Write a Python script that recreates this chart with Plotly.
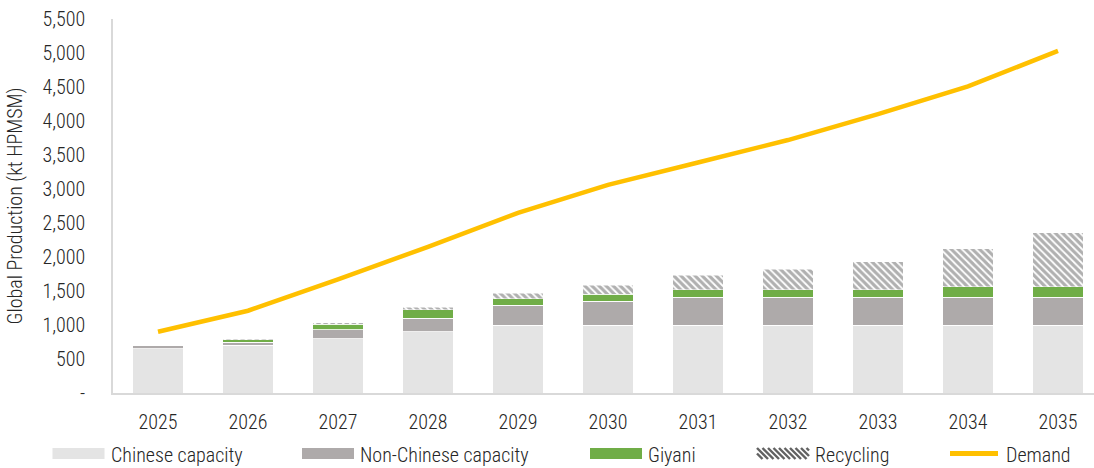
import plotly.graph_objects as go

# Global HPMSM supply build-up versus demand, 2025-2035 (kt HPMSM)
years = ["2025", "2026", "2027", "2028", "2029", "2030", "2031", "2032", "2033", "2034", "2035"]
chinese_capacity = [650, 700, 800, 900, 1000, 1000, 1000, 1000, 1000, 1000, 1000]
non_chinese_capacity = [50, 50, 130, 200, 290, 350, 410, 410, 410, 410, 410]
giyani = [0, 30, 80, 125, 95, 105, 110, 110, 110, 150, 150]
recycling = [0, 15, 25, 35, 85, 130, 215, 300, 410, 565, 800]
demand = [900, 1210, 1670, 2150, 2650, 3060, 3390, 3720, 4100, 4510, 5030]

y_ticks = [0, 500, 1000, 1500, 2000, 2500, 3000, 3500, 4000, 4500, 5000, 5500]
y_tick_text = ["-"] + [f"{v:,}" for v in y_ticks[1:]]

FONT = "Liberation Sans Narrow, Arial Narrow, Roboto Condensed, DejaVu Sans Condensed, sans-serif"
WEIGHT = 300
TEXT_COLOR = "#262626"
C_CHINESE = "#e4e4e4"
C_NONCHINESE = "#aeaaaa"
C_GIYANI = "#70ad47"
C_STRIPE = "#626262"
C_DEMAND = "#ffc000"

W, H = 1094, 468
M_L, M_R, M_T, M_B = 113, 0, 19, 75
PLOT_W = W - M_L - M_R
PLOT_H = H - M_T - M_B

fig = go.Figure()

bar_line = dict(color="white", width=0.8)
fig.add_trace(go.Bar(x=years, y=chinese_capacity, name="Chinese capacity",
                     marker=dict(color=C_CHINESE, line=bar_line)))
fig.add_trace(go.Bar(x=years, y=non_chinese_capacity, name="Non-Chinese capacity",
                     marker=dict(color=C_NONCHINESE, line=bar_line)))
fig.add_trace(go.Bar(x=years, y=giyani, name="Giyani",
                     marker=dict(color=C_GIYANI, line=bar_line)))
fig.add_trace(go.Bar(x=years, y=recycling, name="Recycling",
                     marker=dict(color="white", line=dict(color="white", width=0.5),
                                 pattern=dict(shape="\\", fgcolor=C_STRIPE, bgcolor="white",
                                              size=5, solidity=0.65))))
fig.add_trace(go.Scatter(x=years, y=demand, name="Demand", mode="lines",
                         line=dict(color=C_DEMAND, width=4.5)))


def px_x(px):
    return (px - M_L) / PLOT_W


def px_y(py):
    return (H - M_B - py) / PLOT_H


text_font = dict(family=FONT, size=20, color=TEXT_COLOR, weight=WEIGHT)

# Custom legend row under the axis
shapes = []
annotations = []
sw_top, sw_bot = 448, 459
sw_w = 52
legend_items = [
    ("Chinese capacity", 52.5, "solid", C_CHINESE),
    ("Non-Chinese capacity", 302, "solid", C_NONCHINESE),
    ("Giyani", 590, "solid", C_GIYANI),
    ("Recycling", 757, "stripes", C_STRIPE),
    ("Demand", 948, "line", C_DEMAND),
]
for label, x0, kind, color in legend_items:
    x1 = x0 + sw_w
    if kind == "solid":
        shapes.append(dict(type="rect", xref="paper", yref="paper",
                           x0=px_x(x0), x1=px_x(x1), y0=px_y(sw_bot), y1=px_y(sw_top),
                           fillcolor=color, line=dict(width=0), layer="above"))
    elif kind == "line":
        ym = (sw_top + sw_bot) / 2
        shapes.append(dict(type="line", xref="paper", yref="paper",
                           x0=px_x(x0 + 2), x1=px_x(x1 - 2), y0=px_y(ym), y1=px_y(ym),
                           line=dict(color=color, width=5)))
    else:
        h = sw_bot - sw_top
        period = 5.5
        xs = x0 - h
        while xs < x1:
            sx, sy = xs, sw_top
            ex, ey = xs + h, sw_bot
            if sx < x0:
                sy = sw_top + (x0 - sx)
                sx = x0
            if ex > x1:
                ey = sw_top + (x1 - xs)
                ex = x1
            if ex > sx:
                shapes.append(dict(type="line", xref="paper", yref="paper",
                                   x0=px_x(sx), x1=px_x(ex), y0=px_y(sy), y1=px_y(ey),
                                   line=dict(color=color, width=2.4)))
            xs += period
    annotations.append(dict(text=label, xref="paper", yref="paper",
                            x=px_x(x1 + 4), y=px_y(455), xanchor="left", yanchor="middle",
                            showarrow=False, font=text_font))

fig.update_layout(
    width=W, height=H,
    margin=dict(l=M_L, r=M_R, t=M_T, b=M_B),
    barmode="stack",
    bargap=0.444,
    showlegend=False,
    plot_bgcolor="white",
    paper_bgcolor="white",
    font=text_font,
    shapes=shapes,
    annotations=annotations,
)

fig.update_xaxes(
    type="category",
    range=[-0.5, 10.4],
    showline=True, linecolor="#d9d9d9", linewidth=2,
    showgrid=False, zeroline=False, ticks="",
    ticklabelstandoff=10,
    tickfont=text_font,
)
fig.update_yaxes(
    range=[0, 5500],
    tickvals=y_ticks, ticktext=y_tick_text,
    showline=True, linecolor="#d9d9d9", linewidth=1.5,
    showgrid=False, zeroline=False, ticks="",
    ticklabelstandoff=22,
    tickfont=text_font,
    title=dict(text="Global Production (kt HPMSM)", standoff=14, font=text_font),
)

fig.write_html("out.html")
